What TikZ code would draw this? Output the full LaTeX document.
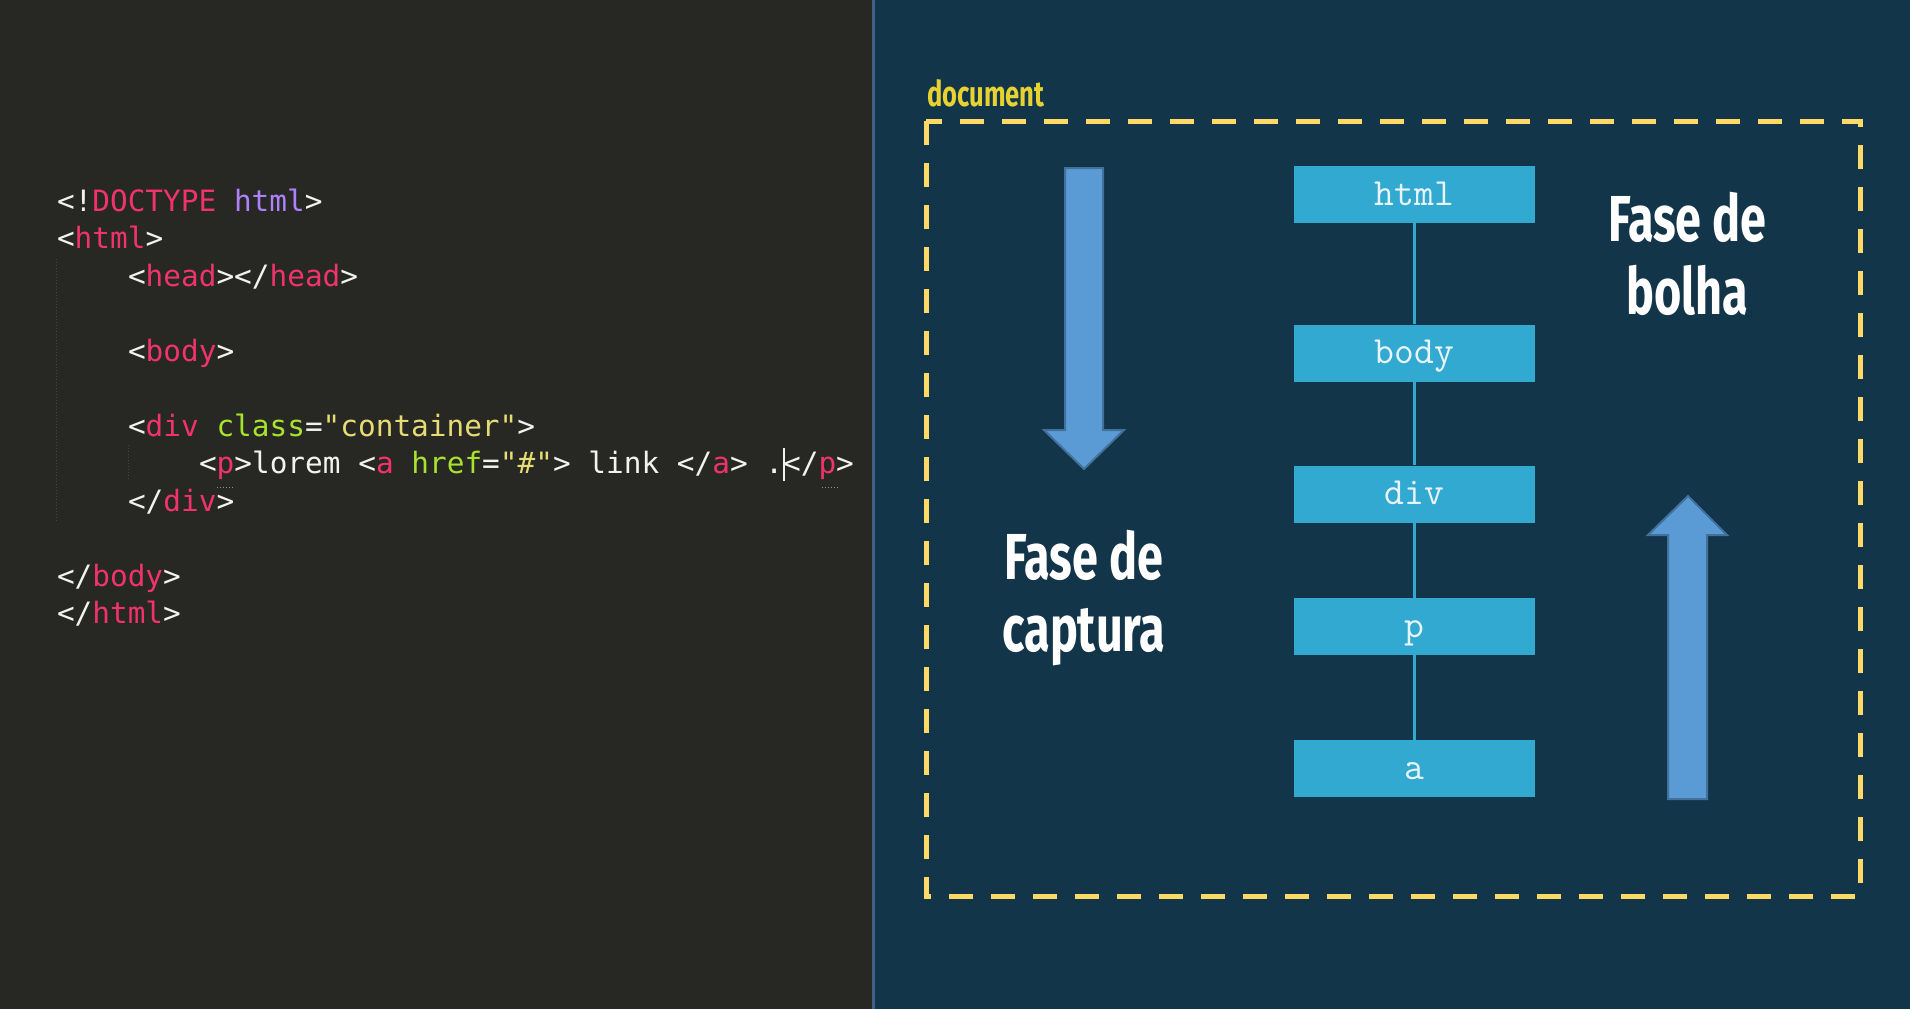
\documentclass[tikz,border=0pt]{standalone}
\usepackage{fontspec}
\newfontfamily\codefont{DejaVu Sans Mono}
\newfontfamily\condfont{Fira Sans}[FakeStretch=0.72]
\definecolor{leftbg}{HTML}{272723}
\definecolor{rightbg}{HTML}{13354A}
\definecolor{divider}{HTML}{3D6087}
\definecolor{dashy}{HTML}{FFD966}
\definecolor{docy}{HTML}{E6D230}
\definecolor{boxc}{HTML}{31A9D1}
\definecolor{boxt}{HTML}{E8F4F8}
\definecolor{arrowf}{HTML}{5B9BD5}
\definecolor{arrowd}{HTML}{41719C}
\definecolor{ctagc}{HTML}{F0336C}
\definecolor{cpunc}{HTML}{F2F2EE}
\definecolor{cdocc}{HTML}{AE81FF}
\definecolor{cattrc}{HTML}{A6E22E}
\definecolor{cstrc}{HTML}{E6DB74}
\definecolor{guidec}{HTML}{45453F}
\newcommand\ct[1]{\textcolor{ctagc}{#1}}
\newcommand\cp[1]{\textcolor{cpunc}{#1}}
\newcommand\cd[1]{\textcolor{cdocc}{#1}}
\newcommand\ca[1]{\textcolor{cattrc}{#1}}
\newcommand\cs[1]{\textcolor{cstrc}{#1}}
\tikzset{
  codeline/.style={anchor=base west, inner sep=0pt, outer sep=0pt, text=cpunc,
    font=\codefont\fontsize{29.4}{35}\selectfont},
  treebox/.style={fill=boxc, draw=none, minimum width=241pt, minimum height=57pt,
    inner sep=0pt, text=boxt, text height=21pt, text depth=0pt,
    font=\ttfamily\fontsize{38.5}{44}\selectfont},
  treelink/.style={draw=boxc, line width=3pt},
  bigtitle/.style={anchor=base, inner sep=0pt, text=white,
    font=\condfont\bfseries\fontsize{65}{72}\selectfont},
  bluearrow/.style={fill=arrowf, draw=arrowd, line width=2pt, line join=miter},
  guide/.style={draw=guidec, line width=1pt, dotted},
}
\begin{document}
\begin{tikzpicture}[x=1pt,y=-1pt]
\useasboundingbox (0,0) rectangle (1910,1009);
% backgrounds
\fill[leftbg] (0,0) rectangle (873,1009);
\fill[rightbg] (873,0) rectangle (1910,1009);
\draw[divider, line width=3pt] (873,0) -- (873,1009);

% code editor
\draw[guide] (56,259) -- (56,521);
\draw[guide] (128,445) -- (128,480);
\node[codeline] (l0) at (57,211.5) {\cp{<!}\ct{DOCTYPE} \cd{html}\cp{>}};
\node[codeline] (l1) at (57,248.9) {\cp{<}\ct{html}\cp{>}};
\node[codeline] (l2) at (128,286.4) {\cp{<}\ct{head}\cp{></}\ct{head}\cp{>}};
\node[codeline] (l4) at (128,361.3) {\cp{<}\ct{body}\cp{>}};
\node[codeline] (l6) at (128,436.2) {\cp{<}\ct{div} \ca{class}\cp{=}\cs{"container"}\cp{>}};
\node[codeline] (l7) at (199,473.6) {\cp{<}\ct{p}\cp{>lorem <}\ct{a} \ca{href}\cp{=}\cs{"\#"}\cp{> link </}\ct{a}\cp{> .</}\ct{p}\cp{>}};
\node[codeline] (l8) at (128,511.1) {\cp{</}\ct{div}\cp{>}};
\node[codeline] (l10) at (57,586) {\cp{</}\ct{body}\cp{>}};
\node[codeline] (l11) at (57,623.4) {\cp{</}\ct{html}\cp{>}};
\draw[cpunc, line width=1.5pt] (784,448) -- (784,481);
\draw[guidec!60!white, line width=1pt, dotted] (217,487) -- (234,487);
\draw[guidec!60!white, line width=1pt, dotted] (822,487) -- (839,487);

% document frame
\node[anchor=base west, inner sep=0pt, text=docy,
  font=\condfont\bfseries\fontsize{35.5}{40}\selectfont] (doclabel) at (927,106) {document};
\draw[dashy, line width=5pt, dash pattern=on 24pt off 18pt] (926,121) rectangle (1860,896);

% arrows
\draw[bluearrow] (1065,168) -- (1103,168) -- (1103,430) -- (1124,430) -- (1084,469)
  -- (1044,430) -- (1065,430) -- cycle;
\draw[bluearrow] (1668,799) -- (1707,799) -- (1707,535) -- (1727,535) -- (1688,496)
  -- (1648,535) -- (1668,535) -- cycle;

% titles
\node[bigtitle] (cap1) at (1084,579) {Fase de};
\node[bigtitle] (cap2) at (1084,651) {captura};
\node[bigtitle] (bol1) at (1687.5,241) {Fase de};
\node[bigtitle] (bol2) at (1687.5,314) {bolha};

% tree
\node[treebox] (html) at (1414.5,194.5) {html};
\node[treebox] (body) at (1414.5,353) {body};
\node[treebox] (div) at (1414.5,494) {div};
\node[treebox] (p) at (1414.5,626.5) {p};
\node[treebox] (a) at (1414.5,768.5) {a};
\draw[treelink] (html) -- (body);
\draw[treelink] (body) -- (div);
\draw[treelink] (div) -- (p);
\draw[treelink] (p) -- (a);
\end{tikzpicture}
\end{document}
